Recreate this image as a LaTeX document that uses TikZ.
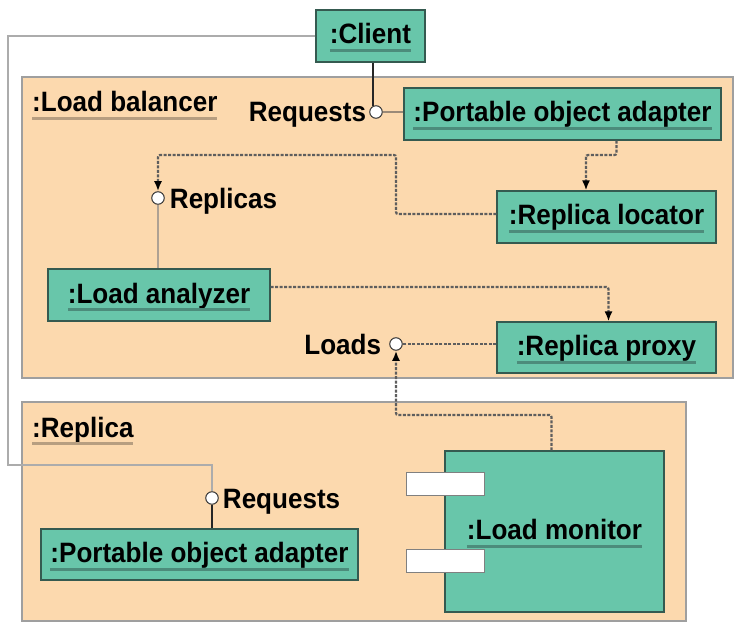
\documentclass[tikz,border=0pt]{standalone}
\usepackage{fontspec}
\setmainfont[FakeStretch=0.93]{Liberation Sans}
\usetikzlibrary{positioning,arrows.meta}
\definecolor{pkgfill}{HTML}{FCD9AE}
\definecolor{objfill}{HTML}{68C6AA}
\definecolor{objedge}{HTML}{355A50}
\definecolor{objline}{HTML}{4C8C7B}
\definecolor{pkgline}{HTML}{B79E80}
\definecolor{linkgray}{HTML}{5E5E5E}
\definecolor{wirebrown}{HTML}{9A8A78}
\newcommand\objname[2][objline]{\setbox0=\hbox{#2}\rlap{\usebox0}\textcolor{#1}{\rule[-8pt]{\wd0}{3pt}}}
\begin{document}
\begin{tikzpicture}[x=1pt,y=-1pt,>={Latex[length=10pt,width=8pt,color=black]},
  font=\fontsize{28}{30}\selectfont\bfseries,
  obj/.style={draw=objedge,line width=1.2pt,fill=objfill,inner sep=0pt,text height=22pt,text depth=6pt},
  pkg/.style={draw=gray!75,line width=1.5pt,fill=pkgfill},
  iface/.style={circle,draw=gray!40!black,fill=white,line width=1pt,minimum size=12.5pt,inner sep=0pt},
  lbl/.style={inner sep=0pt,text height=20pt,text depth=0pt},
  uses/.style={draw=linkgray,line width=2.2pt,dash pattern=on 3pt off 1.5pt,rounded corners=2pt},
  wire/.style={draw=#1,line width=2pt},
  port/.style={draw=gray,fill=white,line width=1pt,minimum width=78pt,minimum height=23pt,inner sep=0pt}]
  \fill[white] (0,0) rectangle (734,623);
  \useasboundingbox (0,0) rectangle (734,623);
  % packages
  \draw[pkg] (22,77) rectangle (733,378);
  \draw[pkg] (22,402) rectangle (686,621);
  \node[anchor=base west,inner sep=0pt] (lbTitle) at (32,112) {\objname[pkgline]{:Load balancer}};
  \node[anchor=base west,inner sep=0pt] (repTitle) at (32,437) {\objname[pkgline]{:Replica}};
  % objects
  \node[obj,minimum width=109pt,minimum height=52pt] (client) at (370.5,36) {\objname{:Client}};
  \node[obj,minimum width=317pt,minimum height=52pt] (poaA) at (562.5,114) {\objname{:Portable object adapter}};
  \node[obj,minimum width=219pt,minimum height=52pt] (locator) at (606.5,217) {\objname{:Replica locator}};
  \node[obj,minimum width=222pt,minimum height=52pt] (analyzer) at (159,295) {\objname{:Load analyzer}};
  \node[obj,minimum width=219pt,minimum height=51pt] (proxy) at (606.5,347.5) {\objname{:Replica proxy}};
  \node[obj,minimum width=317pt,minimum height=51pt] (poaB) at (199.5,554.5) {\objname{:Portable object adapter}};
  \node[obj,minimum width=219pt,minimum height=161pt] (monitor) at (554.5,531.5) {\objname{:Load monitor}};
  \foreach \y [count=\i] in {483.5,561}
    \node[port] (port\i) at (445,\y) {};
  % interfaces
  \node[iface] (reqA) at (376,112) {};
  \node[iface] (replicas) at (158,198) {};
  \node[iface] (loads) at (396,344) {};
  \node[iface] (reqB) at (212,498) {};
  \node[lbl,left=3pt of reqA] (reqAlbl) {Requests};
  \node[lbl,right=5pt of replicas] (replicaslbl) {Replicas};
  \node[lbl,left=8pt of loads] (loadslbl) {Loads};
  \node[lbl,right=4pt of reqB] (reqBlbl) {Requests};
  \coordinate (wrapL) at (8,465);
  \coordinate (poaTurn) at (586,155);
  \coordinate (locTurn) at (396,155);
  \coordinate (monTurn) at (396,415);
  % connectors
  \draw[wire=gray!65] (client.west) -| (wrapL) -| (reqB.north);
  \draw[wire=gray!30!black] (reqA.115 |- client.south) -- (reqA.115);
  \draw[wire=wirebrown] (reqA.east) -- (reqA.east -| poaA.west);
  \draw[wire=wirebrown!80] (replicas.south) -- (replicas.south |- analyzer.north);
  \draw[wire=gray!30!black] (reqB.south) -- (reqB.south |- poaB.north);
  \draw[uses,->] ([xshift=54pt]poaA.south) |- (poaTurn) -- (poaTurn |- locator.north);
  \draw[uses,->] ([yshift=3pt]locator.west) -| (locTurn) -| (replicas.north);
  \draw[uses,->] ([yshift=8pt]analyzer.east) -| ([xshift=2pt]proxy.north);
  \draw[uses] (loads.east -| proxy.west) -- (loads.east);
  \draw[uses,->] ([xshift=-3pt]monitor.north) |- (monTurn) -- (loads.south);
\end{tikzpicture}
\end{document}
